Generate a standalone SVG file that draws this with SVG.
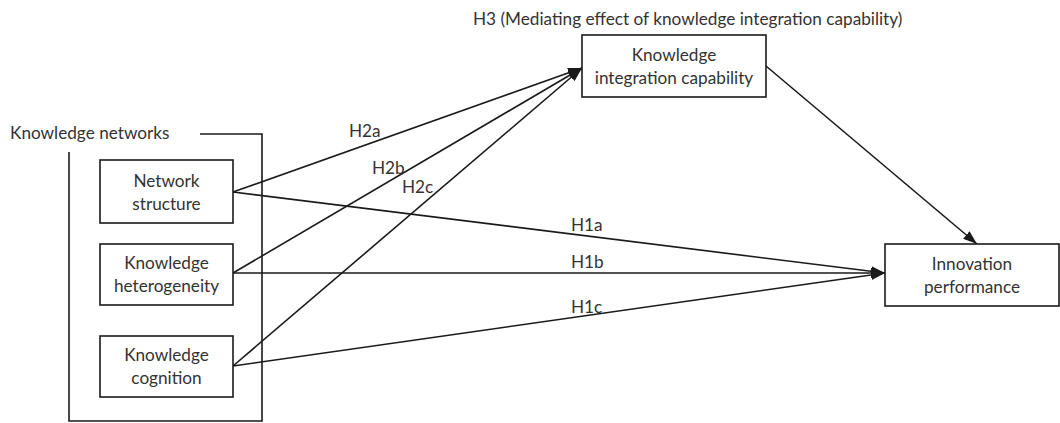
<svg xmlns="http://www.w3.org/2000/svg" width="1060" height="423" viewBox="0 0 1060 423">
<defs>
<marker id="arr" markerUnits="userSpaceOnUse" markerWidth="14" markerHeight="10" viewBox="0 0 14 10" refX="14" refY="5" orient="auto">
<path d="M0,0 L14,5 L0,10 Z" fill="#1a1a1a"/>
</marker>
<style>
.box{fill:#fff;stroke:#1a1a1a;stroke-width:1.6}
.ln{fill:none;stroke:#1a1a1a;stroke-width:1.6}
.t{font-family:Lato,"Liberation Sans",sans-serif;font-size:17.2px;fill:#333}
.c{text-anchor:middle}
</style>
</defs>
<rect width="1060" height="423" fill="#fff"/>
<g id="knowledge-networks">
<path class="ln" d="M200,134 H262 V421 H69 V152"/>
<text class="t" x="10" y="139">Knowledge networks</text>
</g>
<g id="connectors">
<line class="ln" x1="233" y1="192" x2="582" y2="68" marker-end="url(#arr)"/>
<line class="ln" x1="233" y1="273" x2="582" y2="68" marker-end="url(#arr)"/>
<line class="ln" x1="233" y1="366" x2="582" y2="68" marker-end="url(#arr)"/>
<line class="ln" x1="233" y1="192" x2="885" y2="273" marker-end="url(#arr)"/>
<line class="ln" x1="233" y1="273" x2="885" y2="273" marker-end="url(#arr)"/>
<line class="ln" x1="233" y1="366" x2="885" y2="273" marker-end="url(#arr)"/>
<line class="ln" x1="766" y1="66" x2="977" y2="244" marker-end="url(#arr)"/>
<text class="t" x="349" y="137">H2a</text>
<text class="t" x="372" y="174">H2b</text>
<text class="t" x="402" y="193">H2c</text>
<text class="t" x="571" y="231">H1a</text>
<text class="t" x="571" y="268">H1b</text>
<text class="t" x="571" y="313">H1c</text>
<text class="t" x="473" y="25">H3 (Mediating effect of knowledge integration capability)</text>
</g>
<g id="network-structure">
<rect class="box" x="100" y="160" width="133" height="63"/>
<text class="t c" x="166.5" y="187">Network</text>
<text class="t c" x="166.5" y="210">structure</text>
</g>
<g id="knowledge-heterogeneity">
<rect class="box" x="100" y="244" width="133" height="61"/>
<text class="t c" x="166.5" y="269">Knowledge</text>
<text class="t c" x="166.5" y="292">heterogeneity</text>
</g>
<g id="knowledge-cognition">
<rect class="box" x="100" y="336" width="133" height="61"/>
<text class="t c" x="166.5" y="361">Knowledge</text>
<text class="t c" x="166.5" y="384">cognition</text>
</g>
<g id="knowledge-integration-capability">
<rect class="box" x="582" y="35" width="184" height="62"/>
<text class="t c" x="674" y="61">Knowledge</text>
<text class="t c" x="674" y="84">integration capability</text>
</g>
<g id="innovation-performance">
<rect class="box" x="885" y="244" width="174" height="62"/>
<text class="t c" x="972" y="270">Innovation</text>
<text class="t c" x="972" y="293">performance</text>
</g>
</svg>
